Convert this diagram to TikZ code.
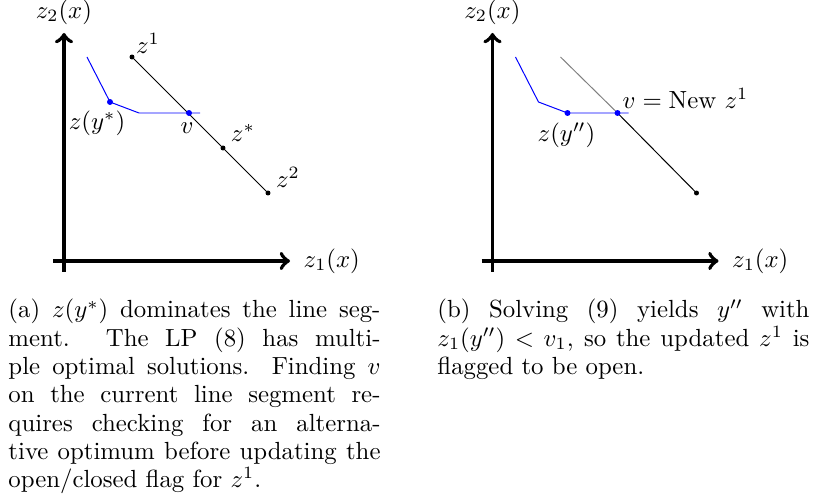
\documentclass[tikz,border=0pt]{standalone}
\usepackage{amsmath,amssymb}
\usetikzlibrary{positioning}
\tolerance=10000

\begin{document}
\begin{tikzpicture}[x=0.4032pt, y=-0.4032pt,
  axis/.style={->, ultra thick},
  front/.style={blue},
  caption/.style={text width=150pt, align=justify, inner sep=0pt, anchor=base west,
    font=\fontsize{10}{11.4}\selectfont}]
\useasboundingbox (0,0) rectangle (814,503);

% (a)
\coordinate (ybota) at (64,272);
\coordinate (ytopa) at (64,33);
\coordinate (xlefta) at (53,261);
\coordinate (xrighta) at (290,261);
\draw[axis] (ybota) -- (ytopa);
\draw[axis] (xlefta) -- (xrighta);
\node[above=0pt of ytopa] (z2labela) {$z_2(x)$};
\node[right=2pt of xrighta] (z1labela) {$z_1(x)$};

\coordinate (fa0) at (87,57);
\coordinate (ya) at (110,102);
\coordinate (fa2) at (139,113);
\coordinate (fa3) at (200,113);
\coordinate (z1a) at (132,57);
\coordinate (va) at (189,113);
\coordinate (zsa) at (223,148);
\coordinate (z2a) at (268,193);
\draw[front] (fa0) -- (ya) -- (fa2) -- (fa3);
\draw (z1a) -- (z2a);
\fill (z1a) circle (1pt) (zsa) circle (1pt) (z2a) circle (1pt);
\fill[blue] (ya) circle (1.2pt) (va) circle (1.2pt);
\node (lz1a) at (148,43) {$z^1$};
\node (lzsa) at (243,133) {$z^*$};
\node (lz2a) at (288,177) {$z^2$};
\node (lya) at (97,123) {$z(y^*)$};
\node (lva) at (187,128) {$v$};

\node[caption] (capa) at (8,318) {(a) $z(y^*)$ dominates the line seg-\linebreak ment. The LP (8) has multi-\linebreak ple optimal solutions. Finding $v$\linebreak on the current line segment re-\linebreak quires checking for an alterna-\linebreak tive optimum before updating the\linebreak open/closed flag for $z^1$.};

% (b)
\begin{scope}[shift={(428.5,0)}]
\coordinate (ybotb) at (64,272);
\coordinate (ytopb) at (64,33);
\coordinate (xleftb) at (53,261);
\coordinate (xrightb) at (290,261);
\draw[axis] (ybotb) -- (ytopb);
\draw[axis] (xleftb) -- (xrightb);
\node[above=0pt of ytopb] (z2labelb) {$z_2(x)$};
\node[right=2pt of xrightb] (z1labelb) {$z_1(x)$};

\coordinate (fb0) at (87,57);
\coordinate (fb1) at (110,102);
\coordinate (yb) at (139,113);
\coordinate (fb3) at (200,113);
\coordinate (gb) at (132,57);
\coordinate (vb) at (189,113);
\coordinate (z2b) at (268,193);
\draw[front] (fb0) -- (fb1) -- (yb) -- (fb3);
\draw[gray] (gb) -- (vb);
\draw (vb) -- (z2b);
\fill[blue] (yb) circle (1.2pt) (vb) circle (1.2pt);
\fill (z2b) circle (1pt);
\node (lyb) at (138,135) {$z(y'')$};
\node (lvb) at (257,99) {$v = \text{New } z^1$};
\end{scope}

\node[caption] (capb) at (437,318) {(b) Solving (9) yields $y''$ with\linebreak $z_1(y'') < v_1$, so the updated $z^1$ is\linebreak flagged to be open.};
\end{tikzpicture}
\end{document}
